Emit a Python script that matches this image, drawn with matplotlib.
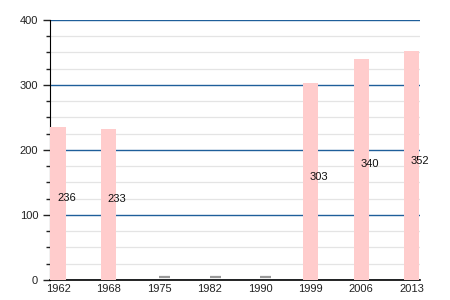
import matplotlib.pyplot as plt
import numpy as np

years = ["1962", "1968", "1975", "1982", "1990", "1999", "2006", "2013"]
values = [236, 233, None, None, None, 303, 340, 352]

plt.rcParams["font.family"] = ["Liberation Sans", "DejaVu Sans"]

fig = plt.figure(figsize=(4.5, 3), dpi=100)
ax = fig.add_axes([0.111, 0.0667, 0.822, 0.8667])

x = np.arange(len(years))
have = [i for i, v in enumerate(values) if v is not None]
missing = [i for i, v in enumerate(values) if v is None]

ax.bar([x[i] for i in have], [values[i] for i in have], width=0.3,
       color="#ffcccc", edgecolor="none", zorder=3)
for i in have:
    ax.text(x[i] - 0.02, values[i] / 2, str(values[i]), ha="left", va="bottom",
            fontsize=8, color="#111111", zorder=4)
# no-data markers
for i in missing:
    ax.hlines(5, x[i], x[i] + 0.22, color="#999999", lw=1.6, zorder=3)

ax.set_xlim(-0.16, 7.16)
ax.set_ylim(0, 400)
ax.set_xticks(x)
ax.set_xticklabels(years)
ax.set_yticks([0, 100, 200, 300, 400])
ax.set_yticks(np.arange(0, 401, 25), minor=True)
ax.grid(which="major", axis="y", color="#1f5f9a", lw=1.0, zorder=1)
ax.grid(which="minor", axis="y", color="#e4e4e4", lw=0.9, zorder=0)
ax.tick_params(axis="x", length=0, labelsize=8, colors="#222222", pad=3)
ax.tick_params(axis="y", which="major", length=5, width=1, labelsize=8,
               colors="#222222")
ax.tick_params(axis="y", which="minor", length=3, width=1, color="#222222")
for s in ["top", "right"]:
    ax.spines[s].set_visible(False)
ax.spines["left"].set_color("black")
ax.spines["bottom"].set_color("black")
ax.spines["bottom"].set_linewidth(1.2)
ax.set_axisbelow(True)

fig.savefig("out.png", dpi=100)
